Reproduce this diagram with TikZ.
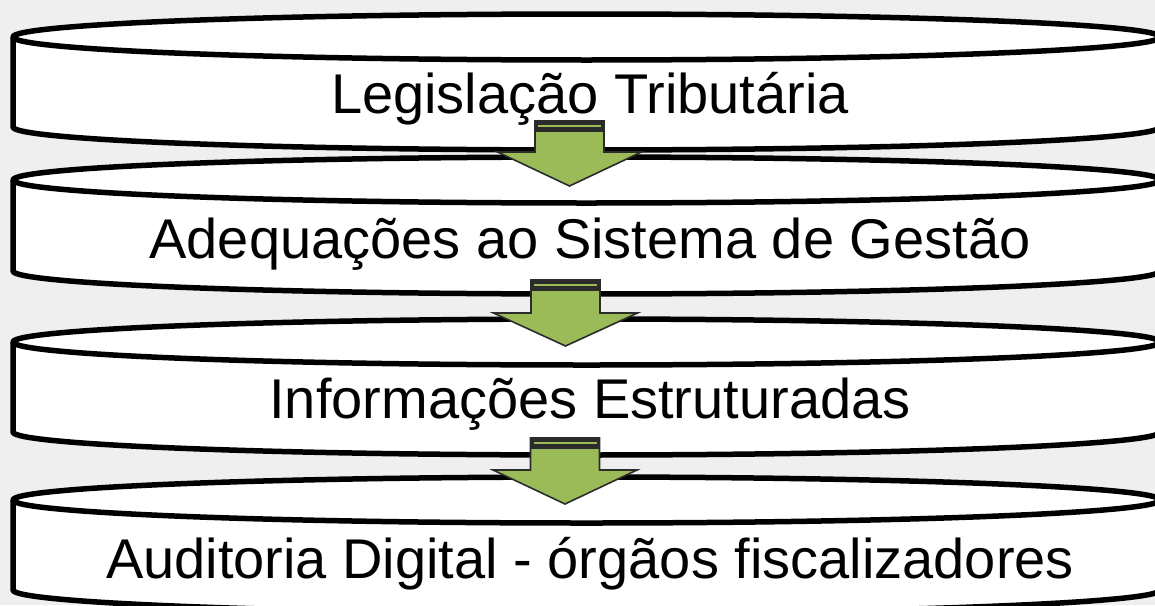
\documentclass[tikz,border=0pt]{standalone}
\usepackage{fontspec}
\setmainfont{Liberation Sans}
\definecolor{bg}{HTML}{EFEFEF}
\definecolor{arrowgreen}{HTML}{9BBB59}
\definecolor{arrowdark}{HTML}{2B2B2B}
\newcommand{\mydisc}[2]{%
  \fill[white] (13,#1) -- (13,#2) arc[start angle=180,end angle=0,x radius=573.5,y radius=23] -- (1160,#1) -- cycle;
  \fill[white] (586.5,#1) ellipse[x radius=573.5,y radius=23];
  \draw[discline] (13,#1) -- (13,#2) arc[start angle=180,end angle=0,x radius=573.5,y radius=23] -- (1160,#1);
  \draw[discline] (586.5,#1) ellipse[x radius=573.5,y radius=23];
}
\newcommand{\myarrow}[4]{%
  \draw[arrowbody] (#1-34.5,#2) -- (#1+34.5,#2) -- (#1+34.5,#3) -- (#1+72,#3) -- (#1,#4) -- (#1-72,#3) -- (#1-34.5,#3) -- cycle;
  \fill[arrowdark] (#1-34.5,#2) rectangle (#1+34.5,#2+11);
  \draw[arrowgreen,line width=1.6pt] (#1-31.5,#2+5) -- (#1+31.5,#2+5);
}
\tikzset{
  discline/.style={black,line width=5.5pt,line join=round},
  arrowbody/.style={fill=arrowgreen,draw=arrowdark,line width=1.6pt,line join=miter},
  label/.style={anchor=base,inner sep=0pt,font=\fontsize{56}{64}\selectfont}
}
\begin{document}
\begin{tikzpicture}[x=1pt,y=-1pt]
\fill[bg] (0,0) rectangle (1155,605);
\useasboundingbox (0,0) rectangle (1155,605);
\mydisc{37}{127}
\mydisc{180}{271}
\mydisc{342}{432}
\mydisc{500}{590}
\node[label] (t1) at (590,113) {Legislação Tributária};
\node[label] (t2) at (590,258) {Adequações ao Sistema de Gestão};
\node[label] (t3) at (590,418) {Informações Estruturadas};
\node[label] (t4) at (590,578) {Auditoria Digital - órgãos fiscalizadores};
\myarrow{569.5}{121}{152}{186}
\myarrow{565.5}{280}{313}{346}
\myarrow{565}{438}{470}{504}
\end{tikzpicture}
\end{document}
